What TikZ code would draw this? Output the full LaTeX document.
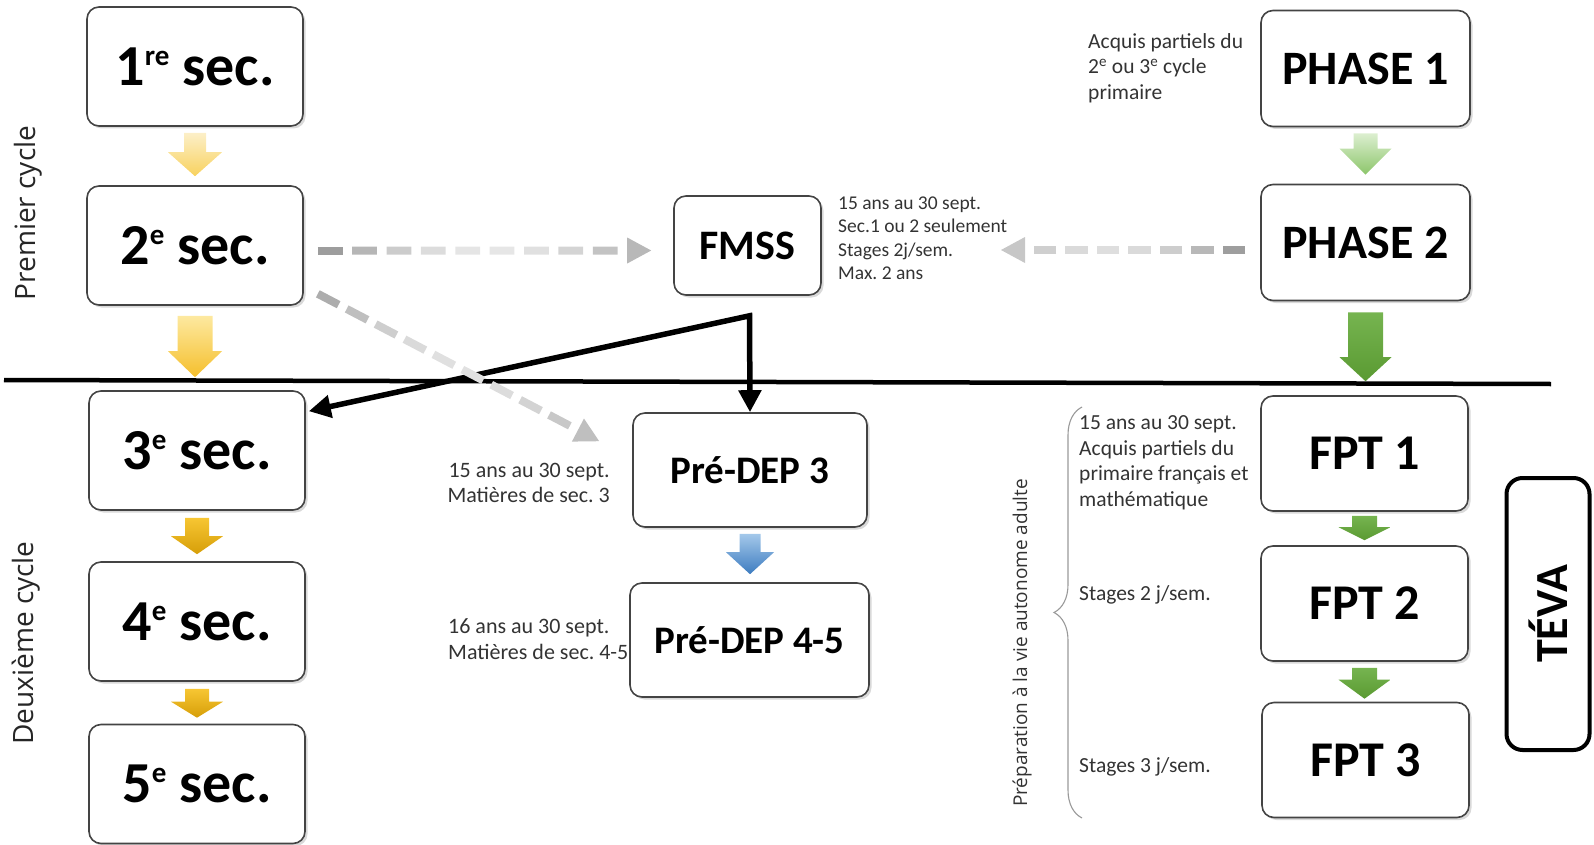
\documentclass[tikz,border=0pt]{standalone}
\usepackage{fontspec}
\setmainfont{Carlito}
\newfontfamily\osans{Open Sans}
\usetikzlibrary{calc,shadows,arrows.meta,decorations.pathreplacing}
\frenchspacing
\definecolor{notegray}{HTML}{333333}
\definecolor{boxline}{HTML}{444444}
\newcommand\secsup[1]{\raisebox{20pt}[0pt][0pt]{\fontsize{29}{29}\selectfont #1}}
% block arrow: #1 from, #2 to, #3 top gap, #4 tip gap, #5 head length, #6 half shaft, #7 half head, #8 top colour, #9 bottom colour
\newcommand\blockarr[9]{%
  \shade[top color=#8, bottom color=#9]
    let \p1=(#1.south), \p2=(#2.north) in
    (\x1-#6, \y1-#3) -- (\x1+#6, \y1-#3) -- (\x1+#6, \y2+#4+#5) -- (\x1+#7, \y2+#4+#5)
    -- (\x1, \y2+#4) -- (\x1-#7, \y2+#4+#5) -- (\x1-#6, \y2+#4+#5) -- cycle;}
% gradient dashed arrow: #1 start, #2 tip, #3 dashes, #4 start black%, #5 middle black%, #6 end black%
\newcommand\gradarr[6]{%
  \coordinate (gabase) at ($(#2)!24pt!(#1)$);
  \foreach \i in {1,...,#3} {
    \pgfmathsetmacro\ta{(\i-1)/#3}
    \pgfmathsetmacro\tb{(\i-0.28)/#3}
    \pgfmathsetmacro\tm{(\i-0.64)/#3}
    \pgfmathsetmacro\pc{#4*(1-\tm)+#6*\tm-((#4+#6)/2-#5)*sin(180*\tm)}
    \draw[line width=8pt, color=black!\pc] ($(#1)!\ta!(gabase)$) -- ($(#1)!\tb!(gabase)$);
  }
  \fill[black!#6] (#2) -- ($(gabase)!13pt!90:(#2)$) -- ($(gabase)!13pt!-90:(#2)$) -- cycle;}
\begin{document}
\begin{tikzpicture}[x=1pt,y=-1pt,
  box/.style={draw=boxline, line width=1.6pt, rounded corners=12pt, fill=white,
    drop shadow={shadow xshift=2.5pt, shadow yshift=-2.5pt, opacity=0.3}, inner sep=0pt},
  secbox/.style={box, minimum width=216pt, minimum height=119pt, font=\fontsize{58}{64}\selectfont\bfseries},
  phbox/.style={box, minimum width=209pt, minimum height=116pt, font=\fontsize{48}{56}\selectfont\bfseries},
  fptbox/.style={box, minimum width=207pt, minimum height=115pt, font=\fontsize{50}{58}\selectfont\bfseries},
  depbox/.style={box, minimum height=114pt, font=\fontsize{39}{46}\selectfont\bfseries},
  note/.style={inner sep=0pt, text=notegray, font=\fontsize{21.5}{25.5}\selectfont},
  bignote/.style={inner sep=0pt, text=notegray, font=\fontsize{22}{25.5}\selectfont},
  smallnote/.style={inner sep=0pt, text=notegray, font=\fontsize{19.5}{23.5}\selectfont, align=left},
  cyclelabel/.style={inner sep=0pt, rotate=90, text=black!85, font=\osans\fontsize{28}{32}\selectfont},
  blk/.style={line width=5.5pt, line join=miter, {Triangle[length=22pt,width=22pt]}-{Triangle[length=22pt,width=22pt]}}
]
\useasboundingbox (0,0) rectangle (1594,845);

% separator line
\coordinate (hl) at (4,380);
\coordinate (hr) at (1551,384);
\draw[line width=4.5pt] (hl) -- (hr);

% left column
\node[secbox] (s1) at (195,66.5) {1\secsup{re} sec.};
\node[secbox] (s2) at (195,245.5) {2\secsup{e} sec.};
\node[secbox] (s3) at (197,450.5) {3\secsup{e} sec.};
\node[secbox] (s4) at (197,621.5) {4\secsup{e} sec.};
\node[secbox] (s5) at (197,784) {5\secsup{e} sec.};

\node[cyclelabel] (pc) at (28,213) {Premier cycle};
\node[cyclelabel] (dc) at (26,643) {Deuxième cycle};

% middle column
\node[box, minimum width=147pt, minimum height=99pt, font=\fontsize{42}{48}\selectfont\bfseries] (fmss) at (747.5,245.5) {FMSS};
\node[depbox, minimum width=234pt] (pd3) at (750,470) {Pré-DEP 3};
\node[depbox, minimum width=239pt] (pd45) at (749.5,640) {Pré-DEP 4-5};

\node[smallnote, anchor=west] (fmssnote) at (838,238) {15 ans au 30 sept.\\Sec.1 ou 2 seulement\\Stages 2j/sem.\\Max. 2 ans};
\node[bignote, anchor=east, align=right] (pd3note) at (610,483) {15 ans au 30 sept.\\Matières de sec. 3};
\node[bignote, anchor=west, align=left] (pd45note) at (448,639) {16 ans au 30 sept.\\Matières de sec. 4-5};

% right column
\node[phbox] (ph1) at (1365.5,68.5) {PHASE 1};
\node[phbox] (ph2) at (1365.5,242.5) {PHASE 2};
\node[fptbox] (fpt1) at (1364.5,453.5) {FPT 1};
\node[fptbox] (fpt2) at (1364.5,603.5) {FPT 2};
\node[fptbox] (fpt3) at (1365.5,760) {FPT 3};

\node[note, anchor=west, align=left] (ph1note) at (1088,68) {Acquis partiels du\\2\textsuperscript{e} ou 3\textsuperscript{e} cycle\\primaire};
\node[note, anchor=west, align=left] (fpt1note) at (1079,463) {15 ans au 30 sept.\\Acquis partiels du\\primaire français et\\mathématique};
\node[note, anchor=west] (fpt2note) at (1079,595) {Stages 2 j/sem.};
\node[note, anchor=west] (fpt3note) at (1079,767) {Stages 3 j/sem.};

\coordinate (brtop) at (1082,407);
\coordinate (brbot) at (1082,818);
\draw[black!40, line width=1.1pt, decorate, decoration={brace, amplitude=28pt}] (brbot) -- (brtop);
\node[inner sep=0pt, rotate=90, text=black!80, font=\osans\fontsize{19}{22}\selectfont] (pva) at (1022,643) {Préparation à la vie autonome adulte};

\node[draw, line width=4pt, rounded corners=16pt, rotate=90, minimum width=272pt, minimum height=83pt,
  inner sep=0pt, font=\fontsize{46}{52}\selectfont\bfseries] (teva) at (1548,614) {TÉVA};

% block arrows
\definecolor{ya1}{HTML}{FCEFC8}\definecolor{ya2}{HTML}{F8D25E}
\definecolor{yb1}{HTML}{FDE9A0}\definecolor{yb2}{HTML}{F5BF2C}
\definecolor{yc1}{HTML}{F7C633}\definecolor{yc2}{HTML}{D69E08}
\definecolor{gl1}{HTML}{DCEFD0}\definecolor{gl2}{HTML}{8CC56A}
\definecolor{gd1}{HTML}{76B450}\definecolor{gd2}{HTML}{5A9A32}
\definecolor{bl1}{HTML}{A4C8EA}\definecolor{bl2}{HTML}{3D7CC0}
\blockarr{s1}{s2}{6pt}{9pt}{24pt}{11pt}{27pt}{ya1}{ya2}
\blockarr{s2}{s3}{10pt}{13pt}{26pt}{17.5pt}{27pt}{yb1}{yb2}
\blockarr{s3}{s4}{7pt}{7pt}{18pt}{12pt}{26pt}{yc1}{yc2}
\blockarr{s4}{s5}{7pt}{6pt}{16pt}{12pt}{26pt}{yc1}{yc2}
\blockarr{ph1}{ph2}{6pt}{9pt}{26pt}{12pt}{26pt}{gl1}{gl2}
\blockarr{ph2}{fpt1}{11pt}{14pt}{24pt}{17.5pt}{26pt}{gd1}{gd2}
\blockarr{fpt1}{fpt2}{4pt}{5pt}{13pt}{12.5pt}{26pt}{gd1}{gd2}
\blockarr{fpt2}{fpt3}{6pt}{3pt}{19pt}{12.5pt}{26pt}{gd1}{gd2}
\blockarr{pd3}{pd45}{6pt}{8pt}{22pt}{10.5pt}{24pt}{bl1}{bl2}

% black connector
\coordinate (bend) at ($(fmss.south)+(2,20)$);
\coordinate (s3tip) at ($(s3.north east)+(3,21)$);
\draw[blk] (s3tip) -- (bend) -- (pd3.north);

% grey dashed connectors
\coordinate (ga1s) at ($(s2.east)+(14,5)$);
\coordinate (ga1t) at ($(fmss.west)+(-22,5)$);
\gradarr{ga1s}{ga1t}{9}{42}{10}{28}
\coordinate (ga2s) at ($(ph2.west)+(-15,7.5)$);
\coordinate (ga2t) at (1001,250);
\gradarr{ga2s}{ga2t}{7}{42}{14}{22}
\coordinate (ga3s) at ($(s2.south east)+(14,-12)$);
\coordinate (ga3t) at ($(pd3.north west)+(-33,29)$);
\gradarr{ga3s}{ga3t}{9}{35}{12}{25}
\end{tikzpicture}
\end{document}
